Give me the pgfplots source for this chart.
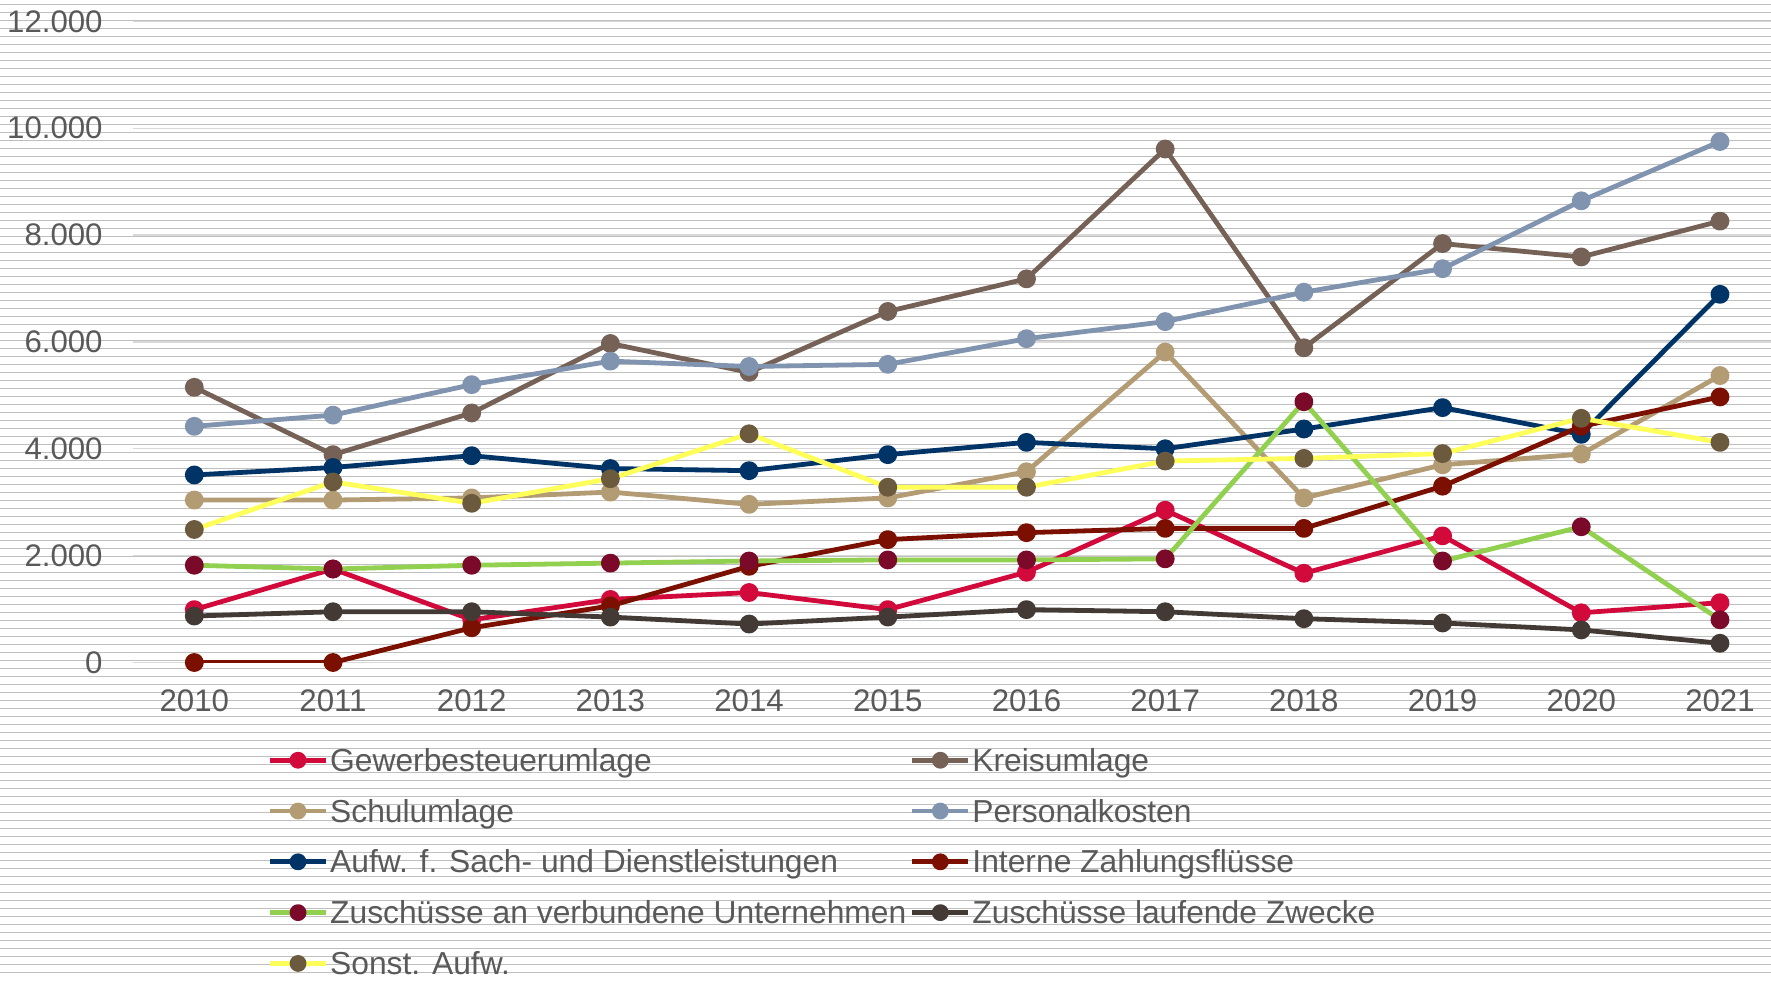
\documentclass[border=0pt]{standalone}
\usepackage{pgfplots}
\pgfplotsset{compat=1.18}
\usepackage{fontspec}
\setmainfont{Liberation Sans}
\definecolor{txt}{HTML}{595959}
\definecolor{stripe}{HTML}{BFBFBF}
\definecolor{gridc}{HTML}{D9D9D9}
\definecolor{cGew}{HTML}{D20A3C}
\definecolor{cKreis}{HTML}{766157}
\definecolor{cSchul}{HTML}{B39B74}
\definecolor{cPers}{HTML}{8094B0}
\definecolor{cAufw}{HTML}{003366}
\definecolor{cInt}{HTML}{7B1000}
\definecolor{cZvL}{HTML}{92D050}
\definecolor{cZvM}{HTML}{7B0A2A}
\definecolor{cZl}{HTML}{433A35}
\definecolor{cSoL}{HTML}{FFFF5A}
\definecolor{cSoM}{HTML}{6B5A3E}
\begin{document}
\begin{tikzpicture}
\useasboundingbox (-66.5pt,-158.75pt) rectangle (819pt,331.25pt);
\foreach \k in {0,...,121}{
  \draw[stripe, line width=0.75pt] (-66.5pt,{328.9pt-4pt*\k}) -- (819pt,{328.9pt-4pt*\k});
}
\begin{axis}[
  at={(0pt,0pt)}, anchor=south west,
  width=819pt, height=320.6pt, scale only axis,
  xmin=-0.442, xmax=11.368, ymin=0, ymax=12000,
  axis line style={draw=none},
  major tick length=0pt,
  xtick={0,...,11},
  xticklabels={2010,2011,2012,2013,2014,2015,2016,2017,2018,2019,2020,2021},
  ytick={0,2000,...,12000},
  scaled y ticks=false,
  /pgf/number format/.cd, 1000 sep={.}, assume math mode=true, /pgfplots/.cd,
  ymajorgrids,
  grid style={gridc, line width=0.6pt},
  tick label style={font=\fontsize{15.6}{18}\selectfont, text=txt},
  xticklabel style={anchor=center, inner sep=0pt, yshift=-18.9pt},
  yticklabel style={anchor=east, inner sep=0pt, xshift=-15pt},
  every axis plot/.append style={line width=2.4pt, line join=round, mark=*, mark size=3.5pt},
  legend columns=2,
  legend style={at={(axis description cs:0.0822,-0.1337)}, anchor=north west,
    draw=none, fill=none, inner sep=0pt, outer sep=0pt,
    font=\fontsize{15.9}{18}\selectfont, text=txt,
    row sep=10.4pt,
    nodes={inner sep=0pt, text height=11.5pt, text depth=3.5pt},
    /tikz/every odd column/.append style={column sep=0.85pt},
    /tikz/every even column/.append style={column sep=1.75pt}},
  legend cell align=left,
  legend image code/.code={\draw[mark repeat=2,mark phase=2,mark size=3pt] plot coordinates {(0pt,1.5pt)(14pt,1.5pt)(28pt,1.5pt)};},
]
\addplot[cGew, mark options={fill=cGew, draw=cGew}] coordinates {(0,990)(1,1750)(2,800)(3,1180)(4,1310)(5,990)(6,1690)(7,2850)(8,1670)(9,2370)(10,930)(11,1120)};
\addlegendentry{Gewerbesteuerumlage}
\addplot[cKreis, mark options={fill=cKreis, draw=cKreis}] coordinates {(0,5150)(1,3890)(2,4670)(3,5970)(4,5430)(5,6570)(6,7180)(7,9610)(8,5890)(9,7840)(10,7590)(11,8260)};
\addlegendentry{Kreisumlage}
\addplot[cSchul, mark options={fill=cSchul, draw=cSchul}] coordinates {(0,3040)(1,3040)(2,3080)(3,3190)(4,2960)(5,3080)(6,3570)(7,5810)(8,3080)(9,3700)(10,3900)(11,5370)};
\addlegendentry{Schulumlage}
\addplot[cPers, mark options={fill=cPers, draw=cPers}] coordinates {(0,4420)(1,4630)(2,5200)(3,5640)(4,5540)(5,5580)(6,6060)(7,6380)(8,6930)(9,7370)(10,8640)(11,9750)};
\addlegendentry{Personalkosten}
\addplot[cAufw, mark options={fill=cAufw, draw=cAufw}] coordinates {(0,3510)(1,3650)(2,3870)(3,3630)(4,3590)(5,3890)(6,4120)(7,4000)(8,4370)(9,4770)(10,4270)(11,6890)};
\addlegendentry{Aufw. f. Sach- und Dienstleistungen}
\addplot[cInt, mark options={fill=cInt, draw=cInt}] coordinates {(0,0)(1,0)(2,650)(3,1060)(4,1800)(5,2300)(6,2430)(7,2510)(8,2510)(9,3300)(10,4420)(11,4970)};
\addlegendentry{Interne Zahlungsflüsse}
\addplot[cZvL, mark options={fill=cZvM, draw=cZvM}] coordinates {(0,1820)(1,1750)(2,1820)(3,1860)(4,1900)(5,1920)(6,1920)(7,1940)(8,4880)(9,1900)(10,2540)(11,800)};
\addlegendentry{Zuschüsse an verbundene Unternehmen}
\addplot[cZl, mark options={fill=cZl, draw=cZl}] coordinates {(0,870)(1,950)(2,950)(3,850)(4,720)(5,850)(6,990)(7,950)(8,820)(9,740)(10,610)(11,360)};
\addlegendentry{Zuschüsse laufende Zwecke}
\addplot[cSoL, mark options={fill=cSoM, draw=cSoM}] coordinates {(0,2490)(1,3380)(2,2980)(3,3440)(4,4280)(5,3280)(6,3280)(7,3770)(8,3820)(9,3910)(10,4570)(11,4120)};
\addlegendentry{Sonst. Aufw.}
\end{axis}
\end{tikzpicture}
\end{document}
